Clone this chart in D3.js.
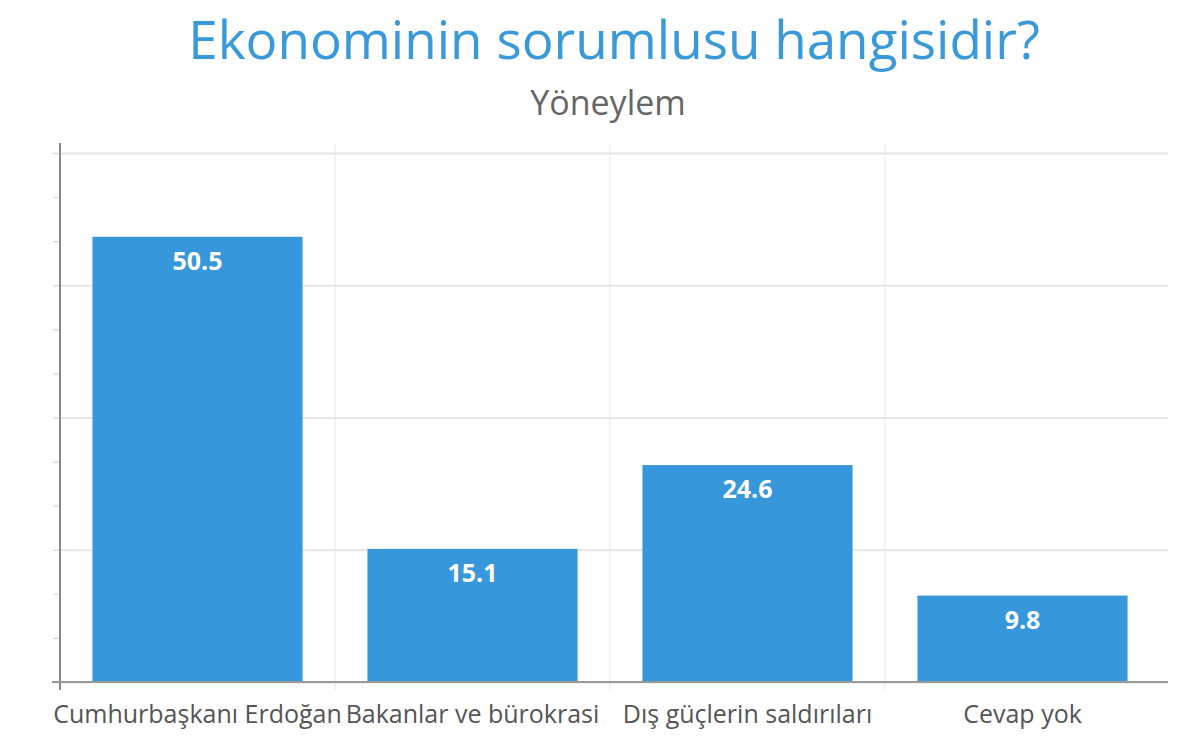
<!DOCTYPE html>
<html>
<head>
<meta charset="utf-8">
<script src="https://cdn.jsdelivr.net/npm/d3@7"></script>
<style>
  body { margin: 0; background: #fff; font-family: "Open Sans", sans-serif; }
</style>
</head>
<body>
<div id="chart"></div>
<script>
// chart data
var categories = ["Cumhurbaşkanı Erdoğan", "Bakanlar ve bürokrasi", "Dış güçlerin saldırıları", "Cevap yok"];
var values = [50.5, 15.1, 24.6, 9.8];
var gridTicks = [0, 15, 30, 45, 60];
var minorTicks = [0, 5, 10, 15, 20, 25, 30, 35, 40, 45, 50, 55, 60];
var titleText = "Ekonominin sorumlusu hangisidir?";
var subtitleText = "Yöneylem";

var W = 1200, H = 745;
var margin = {top: 153, right: 40, bottom: 63, left: 60},
    width = W - margin.left - margin.right,
    height = H - margin.top - margin.bottom;

var svg = d3.select("#chart").append("svg")
  .attr("width", W)
  .attr("height", H);

svg.append("text")
  .attr("x", 614)
  .attr("y", 59)
  .attr("text-anchor", "middle")
  .style("font-size", "53px")
  .style("fill", "#3a9ad9")
  .text(titleText);

svg.append("text")
  .attr("x", 608)
  .attr("y", 115)
  .attr("text-anchor", "middle")
  .style("font-size", "34px")
  .style("fill", "#666")
  .text(subtitleText);

var g = svg.append("g")
  .attr("transform", "translate(" + margin.left + "," + margin.top + ")");

var x = d3.scaleBand()
  .domain(categories)
  .range([0, 1100])
  .paddingInner(0.236)
  .paddingOuter(0.118);

var y = d3.scaleLinear()
  .domain([0, 60])
  .range([height, 0]);

// horizontal grid
g.append("g")
  .attr("class", "grid")
  .call(d3.axisLeft(y).tickValues(gridTicks).tickSize(-(width + 8)).tickFormat(""))
  .call(s => s.select(".domain").remove())
  .selectAll("line")
  .attr("stroke", "#e6e6e6")
  .attr("stroke-width", 2);

// vertical separators between categories
var step = x.step();
g.selectAll(".vsep")
  .data(categories.slice(1))
  .enter().append("line")
  .attr("class", "vsep")
  .attr("x1", d => x(d) - step * x.paddingInner() / 2)
  .attr("x2", d => x(d) - step * x.paddingInner() / 2)
  .attr("y1", -10)
  .attr("y2", height + 8)
  .attr("stroke", "#e6e6e6")
  .attr("stroke-width", 1);

// bars
g.selectAll(".bar")
  .data(values)
  .enter().append("rect")
  .attr("class", "bar")
  .attr("x", (d, i) => x(categories[i]))
  .attr("y", d => y(d))
  .attr("width", x.bandwidth())
  .attr("height", d => height - y(d))
  .style("fill", "#3797db");

// value labels
g.selectAll(".val")
  .data(values)
  .enter().append("text")
  .attr("class", "val")
  .attr("x", (d, i) => x(categories[i]) + x.bandwidth() / 2)
  .attr("y", d => y(d) + 33)
  .attr("text-anchor", "middle")
  .style("font-size", "25px")
  .style("font-weight", "bold")
  .style("fill", "#fff")
  .text(d => d.toFixed(1));

// y axis with minor ticks, no labels
var yAxis = g.append("g")
  .call(d3.axisLeft(y).tickValues(minorTicks).tickSize(7).tickSizeOuter(0).tickFormat(""));
yAxis.selectAll(".tick line").attr("stroke", "#ddd").attr("stroke-width", 1.5);
yAxis.select(".domain").remove();
g.append("line")
  .attr("x1", 0).attr("x2", 0)
  .attr("y1", -10).attr("y2", height + 8)
  .attr("stroke", "#888")
  .attr("stroke-width", 2);

// x axis baseline and labels
var xAxis = g.append("g")
  .attr("transform", "translate(0," + height + ")")
  .call(d3.axisBottom(x).tickSize(0).tickPadding(23));
xAxis.select(".domain").remove();
xAxis.selectAll("text")
  .style("font-size", "25px")
  .style("font-family", "Open Sans, sans-serif")
  .style("fill", "#555");
g.append("line")
  .attr("x1", -8).attr("x2", width + 8)
  .attr("y1", height).attr("y2", height)
  .attr("stroke", "#999")
  .attr("stroke-width", 2);
</script>
</body>
</html>
